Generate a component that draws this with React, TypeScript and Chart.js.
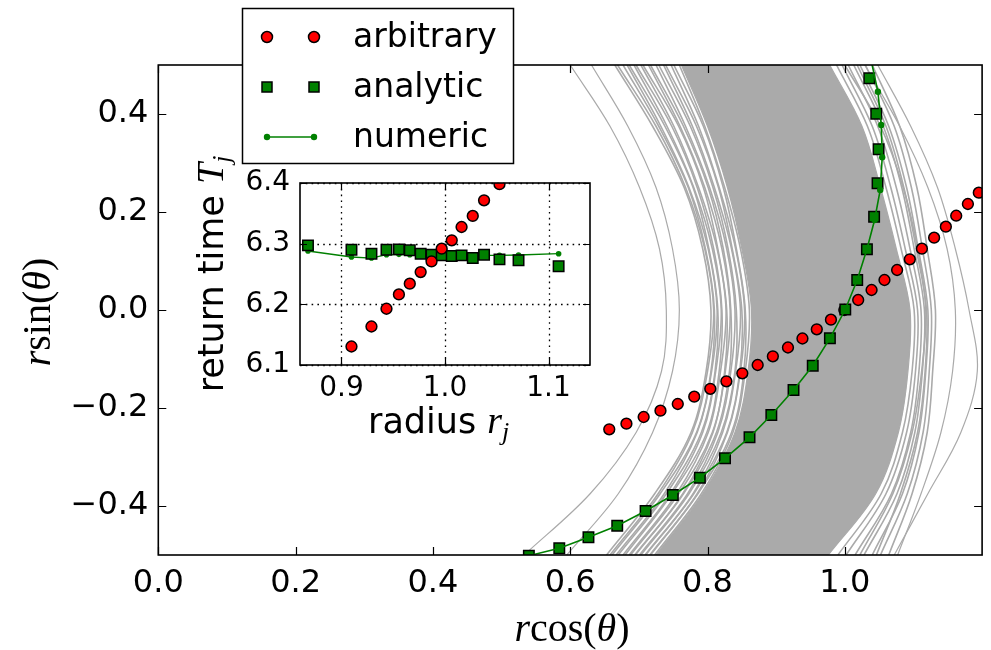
import React, { useEffect, useRef } from 'react';
import { Chart, registerables } from 'chart.js';

Chart.register(...registerables);

// ---------- main panel data ----------
// y levels at which every gray trajectory is sampled (top -> bottom)
const grayY = [0.5, 0.375, 0.25, 0.125, 0, -0.125, -0.25, -0.375, -0.5];

// isolated gray trajectories (x value at each grayY level)
const trajA = [0.600, 0.658, 0.701, 0.730, 0.740, 0.733, 0.696, 0.629, 0.533];
const trajB = [0.631, 0.684, 0.725, 0.749, 0.759, 0.749, 0.720, 0.670, 0.595];
const trajR2 = [1.029, 1.080, 1.121, 1.149, 1.161, 1.157, 1.140, 1.111, 1.077];
const trajR1 = [1.048, 1.096, 1.135, 1.161, 1.181, 1.193, 1.169, 1.121, 1.072];

// bundled gray trajectories on either side of the dense core
const trajL01 = [0.665, 0.720, 0.766, 0.793, 0.805, 0.798, 0.776, 0.723, 0.653];
const trajL02 = [0.669, 0.725, 0.768, 0.796, 0.809, 0.800, 0.778, 0.728, 0.658];
const trajL03 = [0.677, 0.729, 0.772, 0.797, 0.810, 0.805, 0.784, 0.731, 0.661];
const trajL04 = [0.683, 0.732, 0.773, 0.801, 0.814, 0.806, 0.785, 0.737, 0.667];
const trajL05 = [0.686, 0.738, 0.779, 0.802, 0.815, 0.811, 0.791, 0.740, 0.670];
const trajL06 = [0.693, 0.741, 0.780, 0.807, 0.820, 0.812, 0.793, 0.746, 0.677];
const trajL07 = [0.696, 0.748, 0.785, 0.809, 0.821, 0.817, 0.799, 0.748, 0.680];
const trajL08 = [0.703, 0.751, 0.787, 0.814, 0.827, 0.819, 0.801, 0.755, 0.686];
const trajL09 = [0.706, 0.758, 0.794, 0.815, 0.828, 0.825, 0.807, 0.758, 0.688];
const trajL10 = [0.714, 0.760, 0.796, 0.821, 0.833, 0.826, 0.808, 0.764, 0.694];
const trajL11 = [0.717, 0.765, 0.801, 0.823, 0.834, 0.832, 0.813, 0.765, 0.695];
const trajL12 = [0.725, 0.768, 0.803, 0.828, 0.840, 0.834, 0.815, 0.771, 0.701];
const trajL13 = [0.729, 0.775, 0.808, 0.830, 0.842, 0.840, 0.820, 0.773, 0.703];
const trajL14 = [0.736, 0.778, 0.810, 0.835, 0.848, 0.841, 0.822, 0.779, 0.709];
const trajL15 = [0.739, 0.784, 0.816, 0.836, 0.850, 0.847, 0.828, 0.780, 0.710];
const trajL16 = [0.747, 0.787, 0.817, 0.841, 0.854, 0.848, 0.829, 0.785, 0.716];
const trajL17 = [0.751, 0.794, 0.823, 0.842, 0.855, 0.853, 0.835, 0.786, 0.717];
const trajL18 = [0.759, 0.796, 0.825, 0.848, 0.861, 0.855, 0.837, 0.791, 0.723];
const trajD1 = [0.988, 1.033, 1.060, 1.082, 1.101, 1.098, 1.084, 1.053, 0.990];
const trajD2 = [0.996, 1.040, 1.067, 1.088, 1.106, 1.103, 1.090, 1.060, 1.002];
const trajD3 = [1.000, 1.052, 1.085, 1.106, 1.118, 1.112, 1.098, 1.070, 1.022];
const trajD4 = [1.005, 1.048, 1.075, 1.095, 1.111, 1.108, 1.096, 1.068, 1.015];
const trajD5 = [1.013, 1.056, 1.083, 1.101, 1.116, 1.113, 1.102, 1.076, 1.028];
const trajD6 = [1.018, 1.060, 1.086, 1.104, 1.119, 1.117, 1.106, 1.081, 1.046];
const trajD7 = [1.022, 1.064, 1.090, 1.107, 1.121, 1.118, 1.108, 1.084, 1.040];
const trajD8 = [1.030, 1.072, 1.097, 1.113, 1.126, 1.123, 1.114, 1.091, 1.052];
const trajD9 = [1.040, 1.080, 1.105, 1.120, 1.132, 1.128, 1.120, 1.098, 1.064];

const isolatedCurves = [trajA, trajB, trajR2, trajR1];
const bundledCurves = [
  trajL01, trajL02, trajL03, trajL04, trajL05, trajL06, trajL07, trajL08, trajL09,
  trajL10, trajL11, trajL12, trajL13, trajL14, trajL15, trajL16, trajL17, trajL18,
  trajD1, trajD2, trajD3, trajD4, trajD5, trajD6, trajD7, trajD8, trajD9,
];

// edges of the densely overlapping core of trajectories
const bandLeft = [0.762, 0.800, 0.829, 0.850, 0.864, 0.859, 0.840, 0.793, 0.725];
const bandRight = [0.978, 1.025, 1.052, 1.075, 1.095, 1.092, 1.078, 1.045, 0.976];

// arbitrary (red circles)
const arbitraryX = [
  0.6569, 0.6819, 0.7070, 0.7315, 0.7567, 0.7807, 0.8041, 0.8275, 0.8507, 0.8731,
  0.8952, 0.9172, 0.9383, 0.9592, 0.9798, 0.9993, 1.0195, 1.0390, 1.0578, 1.0762,
  1.0947, 1.1123, 1.1301, 1.1472, 1.1623, 1.1793, 1.1952,
];
const arbitraryY = [
  -0.2435, -0.2320, -0.2184, -0.2055, -0.1918, -0.1769, -0.1608, -0.1455, -0.1292, -0.1122,
  -0.0945, -0.0765, -0.0582, -0.0394, -0.0198, 0.0000, 0.0204, 0.0408, 0.0612, 0.0816,
  0.1035, 0.1251, 0.1476, 0.1700, 0.1924, 0.2163, 0.2394,
];

// analytic (green squares)
const analyticX = [
  0.5398, 0.5841, 0.6266, 0.6685, 0.7098, 0.7495, 0.7889, 0.8255, 0.8612, 0.8930,
  0.9253, 0.9533, 0.9783, 1.0007, 1.0181, 1.0322, 1.0427, 1.0477, 1.0492, 1.0458, 1.0357,
];
const analyticY = [
  -0.5014, -0.4863, -0.4639, -0.4402, -0.4102, -0.3776, -0.3422, -0.3027, -0.2598, -0.2143,
  -0.1633, -0.1137, -0.0578, 0.0010, 0.0612, 0.1241, 0.1904, 0.2586, 0.3282, 0.4006, 0.4729,
];

// numeric (green line with dots)
const numericX = [
  0.5398, 0.5841, 0.6266, 0.6685, 0.7098, 0.7495, 0.7889, 0.8255, 0.8612, 0.8930,
  0.9253, 0.9533, 0.9783, 1.0007, 1.0181, 1.0322, 1.0434, 1.0516, 1.0545, 1.0531, 1.0482, 1.0376,
];
const numericY = [
  -0.5014, -0.4863, -0.4639, -0.4402, -0.4102, -0.3776, -0.3422, -0.3027, -0.2598, -0.2143,
  -0.1633, -0.1137, -0.0578, 0.0010, 0.0612, 0.1241, 0.1837, 0.2449, 0.3116, 0.3776, 0.4455, 0.5143,
];

const mainXTicks = [0.0, 0.2, 0.4, 0.6, 0.8, 1.0];
const mainYTicks = [-0.4, -0.2, 0.0, 0.2, 0.4];

// ---------- inset data ----------
const insetRadius = [
  0.8677, 0.9097, 0.9290, 0.9435, 0.9555, 0.9660, 0.9765, 0.9870,
  0.9968, 1.0065, 1.0160, 1.0268, 1.0377, 1.0526, 1.0710, 1.1097,
];
const insetArbitrary = [
  null, 6.1305, 6.1635, 6.1927, 6.2163, 6.2340, 6.2532, 6.2708,
  6.2917, 6.3055, 6.3275, 6.3457, 6.3715, 6.3980, null, null,
];
const insetAnalytic = [
  6.2972, 6.2901, 6.2835, 6.2901, 6.2906, 6.2890, 6.2835, 6.2818,
  6.2807, 6.2796, 6.2807, 6.2763, 6.2818, 6.2741, 6.2725, 6.2626,
];
const insetNumeric = [
  6.2879, 6.2780, 6.2763, 6.2818, 6.2824, 6.2818, 6.2813, 6.2807,
  6.2802, 6.2802, 6.2802, 6.2802, 6.2807, 6.2807, 6.2813, 6.2835,
];
const insetXTicks = [0.9, 1.0, 1.1];
const insetYTicks = [6.1, 6.2, 6.3, 6.4];

// ---------- styling ----------
const GRAY = '#aaaaaa';
const RED = '#ff0000';
const GREEN = '#008000';
const SANS = "'DejaVu Sans'";
const SERIF = "'Liberation Serif'";

const fmt = (v: number) => {
  const n = Math.abs(v) < 1e-9 ? 0 : v;
  return n.toFixed(1).replace('-', '\u2212');
};

type Part = { t: string; font: string; dy?: number };

function partsWidth(ctx: CanvasRenderingContext2D, parts: Part[]) {
  let w = 0;
  for (const p of parts) {
    ctx.font = p.font;
    w += ctx.measureText(p.t).width;
  }
  return w;
}

function drawParts(ctx: CanvasRenderingContext2D, parts: Part[], x: number, y: number) {
  let cx = x;
  ctx.textAlign = 'left';
  ctx.textBaseline = 'alphabetic';
  for (const p of parts) {
    ctx.font = p.font;
    ctx.fillText(p.t, cx, y + (p.dy || 0));
    cx += ctx.measureText(p.t).width;
  }
}

function drawFrameAndTicks(chart: any, tickLen: number, lw: number) {
  const { ctx, chartArea: a, scales } = chart;
  ctx.save();
  ctx.strokeStyle = '#000';
  ctx.lineWidth = 1.2;
  ctx.beginPath();
  for (const t of scales.x.ticks) {
    const px = Math.round(scales.x.getPixelForValue(t.value)) + 0.5;
    ctx.moveTo(px, a.bottom);
    ctx.lineTo(px, a.bottom - tickLen);
    ctx.moveTo(px, a.top);
    ctx.lineTo(px, a.top + tickLen);
  }
  for (const t of scales.y.ticks) {
    const py = Math.round(scales.y.getPixelForValue(t.value)) + 0.5;
    ctx.moveTo(a.left, py);
    ctx.lineTo(a.left + tickLen, py);
    ctx.moveTo(a.right, py);
    ctx.lineTo(a.right - tickLen, py);
  }
  ctx.stroke();
  ctx.lineWidth = lw;
  ctx.strokeRect(a.left, a.top, a.right - a.left, a.bottom - a.top);
  ctx.restore();
}

const mainPlugin = {
  id: 'mainDecor',
  afterDatasetsDraw(chart: any) {
    drawFrameAndTicks(chart, 8, 1.6);
  },
  afterDraw(chart: any) {
    const { ctx } = chart;
    ctx.save();
    // legend
    const lx = 242, ly = 8, lw = 271, lh = 155;
    ctx.fillStyle = '#fff';
    ctx.fillRect(lx, ly, lw, lh);
    ctx.strokeStyle = '#000';
    ctx.lineWidth = 1.5;
    ctx.strokeRect(lx + 0.5, ly + 0.5, lw, lh);
    const m1 = 267, m2 = 314, tx = 353;
    const rows = [37, 87, 137];
    const dsets = chart.data.datasets;
    const labelOf = (name: string) => dsets.find((d: any) => d.label === name).label;
    for (const mx of [m1, m2]) {
      ctx.beginPath();
      ctx.arc(mx, rows[0], 5.5, 0, Math.PI * 2);
      ctx.fillStyle = RED;
      ctx.fill();
      ctx.lineWidth = 1.5;
      ctx.strokeStyle = '#000';
      ctx.stroke();
    }
    for (const mx of [m1, m2]) {
      ctx.fillStyle = GREEN;
      ctx.fillRect(mx - 5, rows[1] - 5, 10, 10);
      ctx.lineWidth = 1.5;
      ctx.strokeStyle = '#000';
      ctx.strokeRect(mx - 5, rows[1] - 5, 10, 10);
    }
    ctx.strokeStyle = GREEN;
    ctx.lineWidth = 1.5;
    ctx.beginPath();
    ctx.moveTo(m1, rows[2]);
    ctx.lineTo(m2, rows[2]);
    ctx.stroke();
    ctx.fillStyle = GREEN;
    for (const mx of [m1, m2]) {
      ctx.beginPath();
      ctx.arc(mx, rows[2], 3.2, 0, Math.PI * 2);
      ctx.fill();
    }
    ctx.fillStyle = '#000';
    ctx.font = `33px ${SANS}`;
    ctx.textAlign = 'left';
    ctx.textBaseline = 'alphabetic';
    ctx.fillText(labelOf('arbitrary'), tx, rows[0] + 10);
    ctx.fillText(labelOf('analytic'), tx, rows[1] + 10);
    ctx.fillText(labelOf('numeric'), tx, rows[2] + 10);

    // axis titles
    const it = `italic 40px ${SERIF}`;
    const up = `40px ${SERIF}`;
    const xParts: Part[] = [
      { t: 'r', font: it }, { t: 'cos', font: up }, { t: '(', font: up },
      { t: '\u03b8', font: it }, { t: ')', font: up },
    ];
    const yParts: Part[] = [
      { t: 'r', font: it }, { t: 'sin', font: up }, { t: '(', font: up },
      { t: '\u03b8', font: it }, { t: ')', font: up },
    ];
    const wx = partsWidth(ctx, xParts);
    drawParts(ctx, xParts, 572 - wx / 2, 641);
    const wy = partsWidth(ctx, yParts);
    ctx.translate(50, 312);
    ctx.rotate(-Math.PI / 2);
    drawParts(ctx, yParts, -wy / 2, 0);
    ctx.restore();
  },
};

const insetPlugin = {
  id: 'insetDecor',
  beforeDraw(chart: any) {
    const { ctx, chartArea: a } = chart;
    ctx.save();
    ctx.fillStyle = '#fff';
    ctx.fillRect(a.left, a.top, a.right - a.left, a.bottom - a.top);
    ctx.restore();
  },
  beforeDatasetsDraw(chart: any) {
    const { ctx, chartArea: a, scales } = chart;
    ctx.save();
    ctx.strokeStyle = '#000';
    ctx.lineWidth = 1.3;
    ctx.setLineDash([1.6, 4.2]);
    ctx.beginPath();
    for (const t of scales.x.ticks) {
      const px = Math.round(scales.x.getPixelForValue(t.value)) + 0.5;
      ctx.moveTo(px, a.top);
      ctx.lineTo(px, a.bottom);
    }
    for (const t of scales.y.ticks) {
      const py = Math.round(scales.y.getPixelForValue(t.value)) + 0.5;
      ctx.moveTo(a.left, py);
      ctx.lineTo(a.right, py);
    }
    ctx.stroke();
    ctx.restore();
  },
  afterDatasetsDraw(chart: any) {
    drawFrameAndTicks(chart, 7, 1.6);
  },
  afterDraw(chart: any) {
    const { ctx } = chart;
    ctx.save();
    ctx.fillStyle = '#000';
    const xParts: Part[] = [
      { t: 'radius ', font: `35px ${SANS}` },
      { t: 'r', font: `italic 38px ${SERIF}` },
      { t: 'j', font: `italic 26px ${SERIF}`, dy: 7 },
    ];
    drawParts(ctx, xParts, 188, 303);
    const yParts: Part[] = [
      { t: 'return time ', font: `35px ${SANS}` },
      { t: 'T', font: `italic 38px ${SERIF}` },
      { t: 'j', font: `italic 26px ${SERIF}`, dy: 7 },
    ];
    const w = partsWidth(ctx, yParts);
    ctx.translate(43, 144);
    ctx.rotate(-Math.PI / 2);
    drawParts(ctx, yParts, -w / 2, 0);
    ctx.restore();
  },
};

function MainChart() {
  const ref = useRef<HTMLCanvasElement>(null);
  useEffect(() => {
    const lineDs = (label: string, xs: number[], width: number, extra: any = {}) => ({
      type: 'line',
      label,
      data: grayY.map((y, i) => ({ x: xs[i], y })),
      borderColor: GRAY,
      backgroundColor: GRAY,
      borderWidth: width,
      pointRadius: 0,
      tension: 0.35,
      fill: false,
      clip: 0,
      order: 10,
      ...extra,
    });
    const datasets: any[] = [
      ...isolatedCurves.map((c, i) => lineDs('trajectory ' + (i + 1), c, 1.2)),
      ...bundledCurves.map((c, i) => lineDs('trajectory ' + (i + 5), c, 1.6)),
      lineDs('core left', bandLeft, 1.2),
      lineDs('core right', bandRight, 1.2, { fill: '-1' }),
      {
        type: 'line',
        label: 'arbitrary',
        data: arbitraryX.map((x, i) => ({ x, y: arbitraryY[i] })),
        showLine: false,
        pointStyle: 'circle',
        pointRadius: 5.4,
        pointBackgroundColor: RED,
        pointBorderColor: '#000',
        pointBorderWidth: 1.5,
        clip: 0,
        order: 3,
      },
      {
        type: 'line',
        label: 'analytic',
        data: analyticX.map((x, i) => ({ x, y: analyticY[i] })),
        showLine: false,
        pointStyle: 'rect',
        pointRadius: 7.4,
        pointBackgroundColor: GREEN,
        pointBorderColor: '#000',
        pointBorderWidth: 1.5,
        clip: 0,
        order: 2,
      },
      {
        type: 'line',
        label: 'numeric',
        data: numericX.map((x, i) => ({ x, y: numericY[i] })),
        showLine: true,
        borderColor: GREEN,
        borderWidth: 1.6,
        tension: 0,
        pointStyle: 'circle',
        pointRadius: 3.2,
        pointBackgroundColor: GREEN,
        pointBorderWidth: 0,
        clip: 0,
        order: 1,
      },
    ];
    const tickFont = { family: 'DejaVu Sans', size: 32 };
    const chart = new Chart(ref.current as HTMLCanvasElement, {
      type: 'line',
      data: { datasets },
      options: {
        indexAxis: 'y',
        animation: false,
        responsive: false,
        events: [],
        layout: { padding: { top: 65, right: 2.7, left: 0, bottom: 0 } },
        plugins: { legend: { display: false }, tooltip: { enabled: false } },
        scales: {
          x: {
            type: 'linear',
            position: 'bottom',
            min: 0,
            max: 1.2,
            afterBuildTicks: (s: any) => { s.ticks = mainXTicks.map((v) => ({ value: v })); },
            afterFit: (s: any) => { s.height = 95; },
            grid: { display: false, drawTicks: false },
            border: { display: false },
            ticks: {
              callback: (v: any) => fmt(Number(v)),
              font: tickFont,
              color: '#000',
              padding: 9,
              maxRotation: 0,
              autoSkip: false,
            },
          },
          y: {
            type: 'linear',
            position: 'left',
            min: -0.5,
            max: 0.5,
            afterBuildTicks: (s: any) => { s.ticks = mainYTicks.map((v) => ({ value: v })); },
            afterFit: (s: any) => { s.width = 158.3; },
            grid: { display: false, drawTicks: false },
            border: { display: false },
            ticks: {
              callback: (v: any) => fmt(Number(v)),
              font: tickFont,
              color: '#000',
              padding: 10,
              autoSkip: false,
            },
          },
        },
      } as any,
      plugins: [mainPlugin],
    } as any);
    return () => chart.destroy();
  }, []);
  return (
    <canvas
      ref={ref}
      width={991}
      height={650}
      style={{ position: 'absolute', left: 0, top: 0, width: 991, height: 650 }}
    />
  );
}

function InsetChart() {
  const ref = useRef<HTMLCanvasElement>(null);
  useEffect(() => {
    const datasets: any[] = [
      {
        label: 'numeric',
        data: insetRadius.map((x, i) => ({ x, y: insetNumeric[i] })),
        showLine: true,
        borderColor: GREEN,
        borderWidth: 1.3,
        tension: 0,
        pointRadius: 2.8,
        pointBackgroundColor: GREEN,
        pointBorderWidth: 0,
        clip: 0,
        order: 3,
      },
      {
        label: 'analytic',
        data: insetRadius.map((x, i) => ({ x, y: insetAnalytic[i] })),
        showLine: false,
        pointStyle: 'rect',
        pointRadius: 7.4,
        pointBackgroundColor: GREEN,
        pointBorderColor: '#000',
        pointBorderWidth: 1.5,
        clip: 0,
        order: 2,
      },
      {
        label: 'arbitrary',
        data: insetRadius.map((x, i) => ({ x, y: insetArbitrary[i] })),
        showLine: false,
        pointRadius: 5.4,
        pointBackgroundColor: RED,
        pointBorderColor: '#000',
        pointBorderWidth: 1.5,
        clip: 0,
        order: 1,
      },
    ];
    const tickFont = { family: 'DejaVu Sans', size: 28 };
    const chart = new Chart(ref.current as HTMLCanvasElement, {
      type: 'line',
      data: { datasets },
      options: {
        animation: false,
        responsive: false,
        events: [],
        spanGaps: false,
        layout: { padding: { top: 53, right: 10, left: 0, bottom: 0 } },
        plugins: { legend: { display: false }, tooltip: { enabled: false } },
        scales: {
          x: {
            type: 'linear',
            position: 'bottom',
            min: 0.86,
            max: 1.14,
            afterBuildTicks: (s: any) => { s.ticks = insetXTicks.map((v) => ({ value: v })); },
            afterFit: (s: any) => { s.height = 95; },
            grid: { display: false, drawTicks: false },
            border: { display: false },
            ticks: {
              callback: (v: any) => fmt(Number(v)),
              font: tickFont,
              color: '#000',
              padding: 7,
              maxRotation: 0,
              autoSkip: false,
            },
          },
          y: {
            type: 'linear',
            position: 'left',
            min: 6.1,
            max: 6.4,
            afterBuildTicks: (s: any) => { s.ticks = insetYTicks.map((v) => ({ value: v })); },
            afterFit: (s: any) => { s.width = 120; },
            grid: { display: false, drawTicks: false },
            border: { display: false },
            ticks: {
              callback: (v: any) => fmt(Number(v)),
              font: tickFont,
              color: '#000',
              padding: 10,
              autoSkip: false,
            },
          },
        },
      } as any,
      plugins: [insetPlugin],
    } as any);
    return () => chart.destroy();
  }, []);
  return (
    <canvas
      ref={ref}
      width={420}
      height={330}
      style={{ position: 'absolute', left: 180, top: 130, width: 420, height: 330 }}
    />
  );
}

export default function App() {
  return (
    <div style={{ position: 'absolute', left: 0, top: 0, width: 991, height: 650, background: '#fff', overflow: 'hidden' }}>
      <MainChart />
      <InsetChart />
    </div>
  );
}
